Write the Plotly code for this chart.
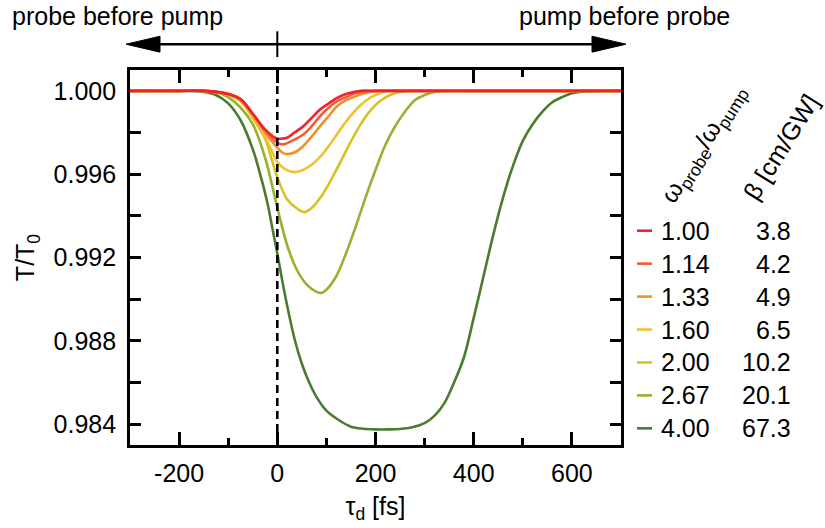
import plotly.graph_objects as go

# ---------------- data ----------------
ratios = ["1.00", "1.14", "1.33", "1.60", "2.00", "2.67", "4.00"]
betas = ["3.8", "4.2", "4.9", "6.5", "10.2", "20.1", "67.3"]
colors = ["#f5202a", "#f85a38", "#f0902a", "#f2c030", "#d8c020", "#9cb030", "#4a7c30"]

tau_100 = [-300, -200, -150, -100, -75, -50, -25, 0, 5, 20, 35, 53, 70, 87, 105, 121, 140, 170, 200, 700]
T_100 = [1.0, 1.0, 1.0, 0.99985, 0.9996, 0.9989, 0.99815, 0.9977, 0.9977, 0.99775, 0.9980, 0.9983, 0.9987,
         0.9991, 0.9994, 0.99965, 0.99985, 1.0, 1.0, 1.0]

tau_114 = [-300, -200, -150, -100, -75, -50, -25, 0, 12, 30, 53, 70, 87, 105, 121, 140, 160, 190, 220, 700]
T_114 = [1.0, 1.0, 1.0, 0.99985, 0.9996, 0.9989, 0.9981, 0.99751, 0.99743, 0.9976, 0.9979, 0.9983, 0.99878,
         0.9992, 0.99949, 0.9997, 0.9999, 1.0, 1.0, 1.0]

tau_133 = [-300, -200, -150, -100, -75, -50, -25, 0, 13, 26, 40, 53, 70, 87, 105, 121, 140, 155, 180, 210, 240, 700]
T_133 = [1.0, 1.0, 1.0, 0.99985, 0.9996, 0.99885, 0.9980, 0.99727, 0.9970, 0.99698, 0.9971, 0.99735, 0.9978,
         0.9983, 0.9988, 0.99925, 0.99955, 0.9997, 0.9999, 1.0, 1.0, 1.0]

tau_160 = [-300, -200, -150, -100, -75, -50, -25, 0, 15, 33, 50, 70, 90, 110, 130, 150, 170, 190, 210, 230, 260, 700]
T_160 = [1.0, 1.0, 1.0, 0.99985, 0.9996, 0.9988, 0.9978, 0.9966, 0.99625, 0.9961, 0.99618, 0.99645, 0.9969,
         0.99752, 0.9982, 0.99882, 0.99932, 0.99968, 0.9999, 1.0, 1.0, 1.0]

tau_200 = [-300, -200, -150, -100, -75, -50, -25, -10, 0, 20, 40, 55, 70, 90, 110, 130, 150, 170, 190, 210,
           230, 250, 270, 300, 700]
T_200 = [1.0, 1.0, 1.0, 0.9998, 0.9995, 0.9987, 0.9977, 0.9966, 0.99585, 0.9948, 0.99435, 0.99418, 0.99438,
         0.99495, 0.99575, 0.99665, 0.99757, 0.9984, 0.99906, 0.99952, 0.9998, 0.99995, 1.0, 1.0, 1.0]

tau_267 = [-300, -200, -150, -125, -100, -75, -50, -25, 0, 20, 40, 60, 80, 90, 100, 120, 140, 160, 180, 200,
           220, 240, 260, 280, 300, 320, 340, 380, 700]
T_267 = [1.0, 1.0, 1.0, 0.99995, 0.9997, 0.9992, 0.9984, 0.9968, 0.9944, 0.9926, 0.9914, 0.9907, 0.99035,
         0.9903, 0.99045, 0.9911, 0.9922, 0.9935, 0.9949, 0.9962, 0.9974, 0.9983, 0.9990, 0.99955, 0.9998,
         0.99995, 1.0, 1.0, 1.0]

tau_400 = [-300, -200, -150, -125, -100, -75, -50, -35, -20, -10, 0, 10, 20, 35, 50, 65, 80, 100, 125, 150,
           175, 200, 225, 250, 275, 300, 320, 340, 360, 380, 400, 420, 440, 460, 480, 500, 520, 540, 560, 580,
           600, 620, 650, 700]
T_400 = [1.0, 1.0, 0.99995, 0.9998, 0.9994, 0.9986, 0.9972, 0.9960, 0.9946, 0.9934, 0.9922, 0.9909, 0.9897,
         0.9881, 0.9869, 0.9860, 0.9853, 0.98465, 0.9842, 0.98388, 0.98378, 0.98375, 0.98375, 0.98377, 0.98385,
         0.98405, 0.9844, 0.9850, 0.9860, 0.9872, 0.9891, 0.9911, 0.9931, 0.9949, 0.9964, 0.9976, 0.9984,
         0.9990, 0.99945, 0.9997, 0.99988, 0.99996, 1.0, 1.0]

series_tau = [tau_100, tau_114, tau_133, tau_160, tau_200, tau_267, tau_400]
series_T = [T_100, T_114, T_133, T_160, T_200, T_267, T_400]

x_ticks = [-200, 0, 200, 400, 600]
y_ticks = [1.000, 0.996, 0.992, 0.988, 0.984]

# ---------------- layout helpers (pixel -> paper) ----------------
W, H = 825, 528
ML, MR, MT, MB = 130, 204, 70, 80
PW, PH = W - ML - MR, H - MT - MB


def px(x):
    return (x - ML) / PW


def py(y):
    return (H - MB - y) / PH


FONT = "Liberation Sans, Arial, Helvetica, sans-serif"

fig = go.Figure()

# draw dark green first so red ends on top
for i in reversed(range(len(ratios))):
    fig.add_trace(go.Scatter(
        x=series_tau[i], y=series_T[i], mode="lines",
        line=dict(color=colors[i], width=2.6, shape="spline", smoothing=1.0),
        showlegend=False, hoverinfo="skip", cliponaxis=True))

shapes = []
# dashed line at tau = 0
shapes.append(dict(type="line", xref="x", yref="paper", x0=0, x1=0, y0=0, y1=1,
                   line=dict(color="black", width=2.6, dash="8px,5px")))
# top arrow
AY = 44
shapes.append(dict(type="line", xref="paper", yref="paper", x0=px(150), x1=px(600), y0=py(AY), y1=py(AY),
                   line=dict(color="black", width=2.6)))
shapes.append(dict(type="path", xref="paper", yref="paper",
                   path=f"M{px(126)},{py(AY)} L{px(160)},{py(AY-8)} L{px(160)},{py(AY+8)} Z",
                   fillcolor="black", line=dict(color="black", width=1)))
shapes.append(dict(type="path", xref="paper", yref="paper",
                   path=f"M{px(626)},{py(AY)} L{px(592)},{py(AY-8)} L{px(592)},{py(AY+8)} Z",
                   fillcolor="black", line=dict(color="black", width=1)))
shapes.append(dict(type="line", xref="x", yref="paper", x0=0, x1=0, y0=py(57), y1=py(31),
                   line=dict(color="black", width=2)))

annotations = [
    dict(text="probe before pump", xref="paper", yref="paper", x=px(10), y=py(16), xanchor="left",
         yanchor="middle", showarrow=False, font=dict(size=25, family=FONT, color="black")),
    dict(text="pump before probe", xref="paper", yref="paper", x=px(732), y=py(16), xanchor="right",
         yanchor="middle", showarrow=False, font=dict(size=25, family=FONT, color="black")),
    dict(text="ω<sub>probe</sub>/ω<sub>pump</sub>", xref="paper", yref="paper", x=px(704), y=py(145),
         xanchor="center", yanchor="middle", textangle=-58, showarrow=False,
         font=dict(size=25, family=FONT, color="black")),
    dict(text="β [cm/GW]", xref="paper", yref="paper", x=px(781), y=py(148),
         xanchor="center", yanchor="middle", textangle=-58, showarrow=False,
         font=dict(size=25, family=FONT, color="black")),
]

for i in range(len(ratios)):
    yy = 232 + i * 33.2
    shapes.append(dict(type="line", xref="paper", yref="paper", x0=px(637), x1=px(652), y0=py(yy), y1=py(yy),
                       line=dict(color=colors[i], width=2.6)))
    annotations.append(dict(text=ratios[i], xref="paper", yref="paper", x=px(659), y=py(yy), xanchor="left",
                            yanchor="middle", showarrow=False, font=dict(size=25, family=FONT, color="black")))
    annotations.append(dict(text=betas[i], xref="paper", yref="paper", x=px(793), y=py(yy), xanchor="right",
                            yanchor="middle", showarrow=False, font=dict(size=25, family=FONT, color="black")))

fig.update_layout(
    width=W, height=H,
    margin=dict(l=ML, r=MR, t=MT, b=MB, pad=0),
    paper_bgcolor="white", plot_bgcolor="white",
    font=dict(family=FONT, size=25, color="black"),
    shapes=shapes, annotations=annotations,
    xaxis=dict(range=[-300, 700], tickvals=x_ticks, ticktext=[str(v) for v in x_ticks],
               ticks="inside", ticklen=13, tickwidth=2.5, tickcolor="black",
               minor=dict(dtick=100, tick0=0, ticks="inside", ticklen=7, tickwidth=2.5, tickcolor="black"),
               showline=True, linewidth=2.8, linecolor="black", mirror="allticks",
               showgrid=False, zeroline=False, layer="below traces", ticklabelstandoff=4,
               title=dict(text="τ<sub>d</sub> [fs]", font=dict(size=25), standoff=12),
               tickfont=dict(size=25)),
    yaxis=dict(range=[0.983, 1.001], tickvals=y_ticks, ticktext=[f"{v:.3f}" for v in y_ticks],
               ticks="inside", ticklen=11, tickwidth=2.5, tickcolor="black",
               minor=dict(dtick=0.002, tick0=0.984, ticks="inside", ticklen=11, tickwidth=2.5, tickcolor="black"),
               showline=True, linewidth=2.8, linecolor="black", mirror="allticks",
               showgrid=False, zeroline=False, ticklabelstandoff=6, layer="below traces",
               title=dict(text="T/T<sub>0</sub>", font=dict(size=25), standoff=12),
               tickfont=dict(size=25)),
)

fig.write_html("out.html")
